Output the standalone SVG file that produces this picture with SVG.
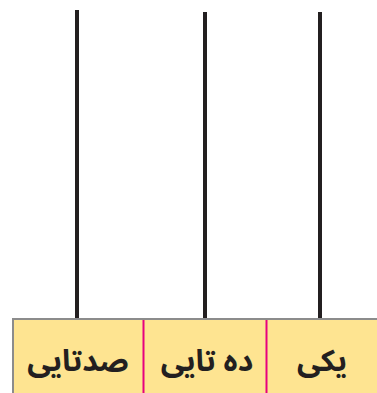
<svg xmlns="http://www.w3.org/2000/svg" width="377" height="393" viewBox="0 0 377 393">
<style>
.rod{stroke:#231f20;stroke-width:4;fill:none}
.div{stroke:#e6007e;stroke-width:2}
.lbl{font-family:"Noto Sans Arabic","Noto Sans","DejaVu Sans",sans-serif;font-weight:bold;font-size:30px;fill:#231f20;text-anchor:middle;direction:rtl}
</style>
<rect width="377" height="393" fill="#ffffff"/>
<g id="connectors">
<line class="rod" x1="77" y1="10" x2="77" y2="319"/>
<line class="rod" x1="205" y1="12" x2="205" y2="319"/>
<line class="rod" x1="320" y1="12" x2="320" y2="319"/>
</g>
<g id="table">
<rect x="13" y="319" width="370" height="80" fill="#fee491" stroke="#8c8c8c" stroke-width="2"/>
<line class="div" x1="143.5" y1="320" x2="143.5" y2="393"/>
<line class="div" x1="266.5" y1="320" x2="266.5" y2="393"/>
</g>
<g id="hundreds"><text class="lbl" x="78" y="371">صدتایی</text></g>
<g id="tens"><text class="lbl" x="207" y="371">ده تایی</text></g>
<g id="ones"><text class="lbl" x="322" y="371">یکی</text></g>
</svg>
